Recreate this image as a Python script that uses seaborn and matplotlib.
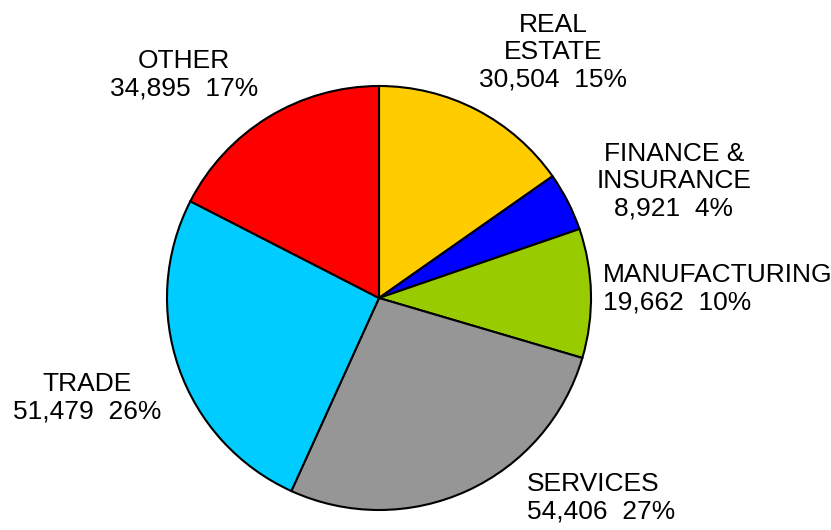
import matplotlib
matplotlib.use("Agg")
import matplotlib.pyplot as plt
import seaborn as sns

# ---- data ----
categories = ["REAL\nESTATE", "FINANCE &\nINSURANCE", "MANUFACTURING", "SERVICES", "TRADE", "OTHER"]
values = [30504, 8921, 19662, 54406, 51479, 34895]
percents = [15, 4, 10, 27, 26, 17]
colors = ["#FFCC00", "#0000FF", "#99CC00", "#969696", "#00CCFF", "#FF0000"]

sns.set_style("white")
plt.rcParams["font.family"] = ["Liberation Sans", "DejaVu Sans"]

W, H = 831, 530
CX, CY, R = 379, 298, 212

fig = plt.figure(figsize=(W / 100, H / 100), dpi=100)
ax = fig.add_axes([0, 0, 1, 1])
ax.pie(values, colors=colors, startangle=90, counterclock=False, radius=1,
       wedgeprops=dict(edgecolor="black", linewidth=1.5))
ax.set_xlim(-CX / R, (W - CX) / R)
ax.set_ylim(-(H - CY) / R, CY / R)
ax.axis("off")

def px(x, y):
    return (x - CX) / R, (CY - y) / R

# label positions in pixel coordinates (x, y, ha)
label_pos = [(553, 52, "center"), (674, 181, "center"), (603, 289, "left"),
             (527, 498, "left"), (87, 398, "center"), (184, 75, "center")]

for cat, v, p, (lx, ly, ha) in zip(categories, values, percents, label_pos):
    x, y = px(lx, ly)
    ax.text(x, y, f"{cat}\n{v:,}  {p}%", ha=ha, va="center", multialignment=ha,
            fontsize=19, linespacing=1.18, color="black", clip_on=False)

fig.savefig("out.png", dpi=100)
